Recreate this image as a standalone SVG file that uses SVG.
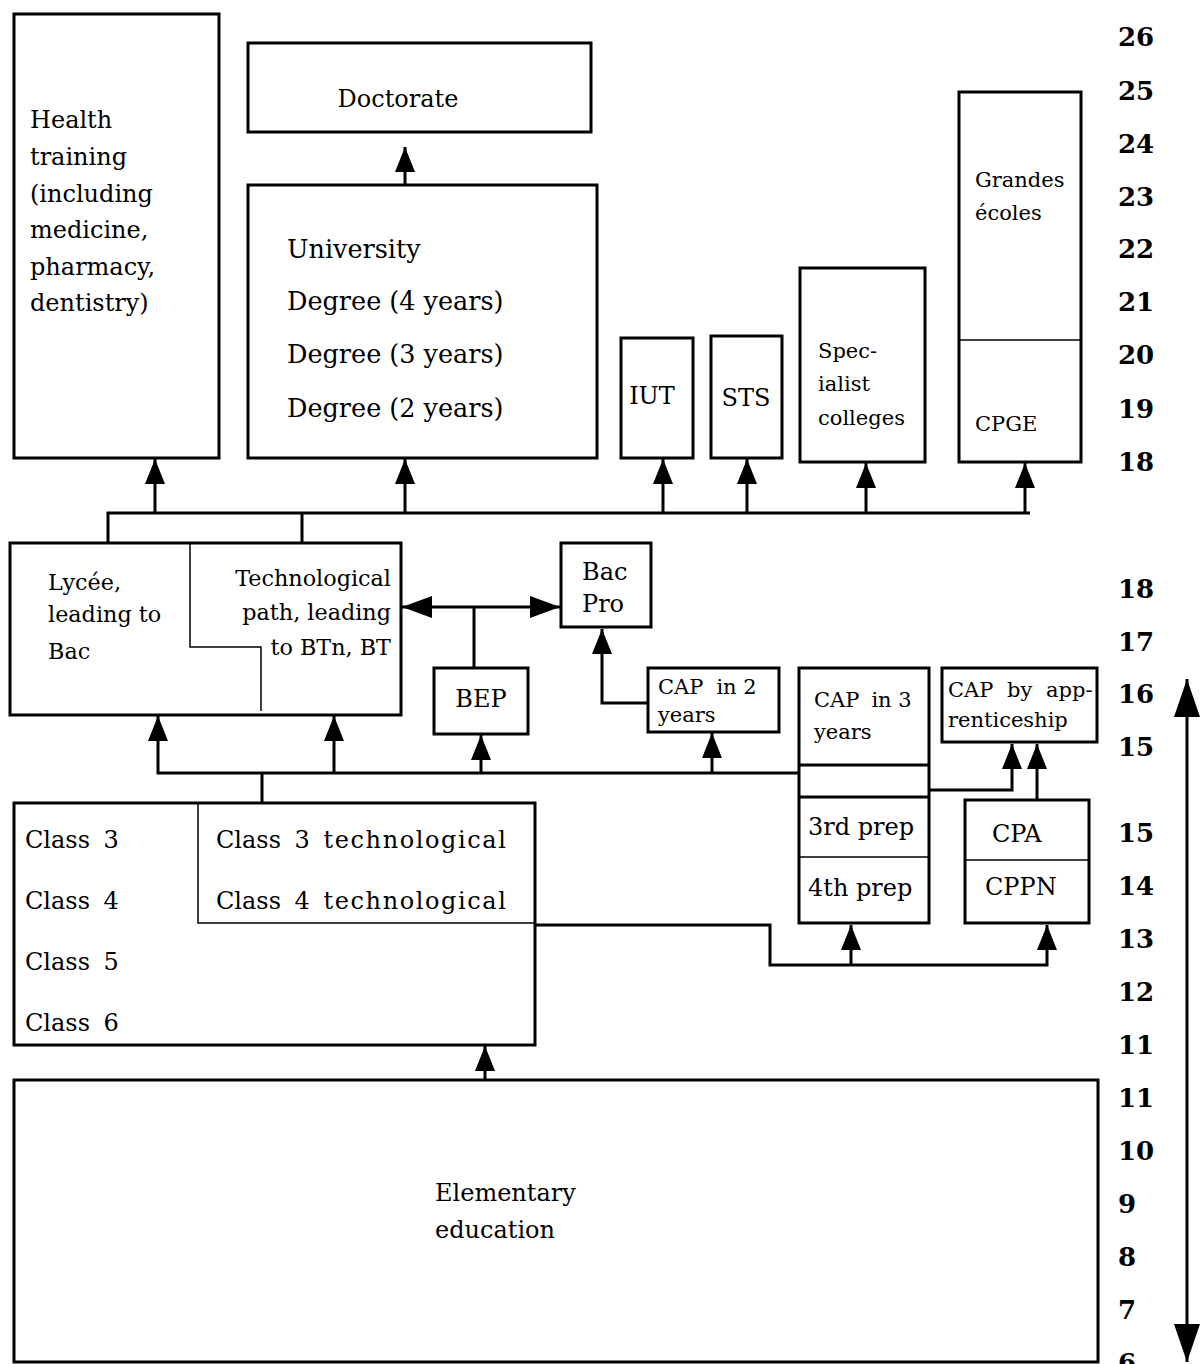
<svg xmlns="http://www.w3.org/2000/svg" width="1200" height="1364" viewBox="0 0 1200 1364">
  <defs>
    <style>
      .box { fill: #fff; stroke: #000; stroke-width: 3; }
      .thin { fill: none; stroke: #000; stroke-width: 1.5; }
      .wire { fill: none; stroke: #000; stroke-width: 3; }
      .t { font-family: "DejaVu Serif", "Liberation Serif", serif; font-size: 24px; fill: #000; }
      .u { font-family: "DejaVu Serif", "Liberation Serif", serif; font-size: 25.5px; fill: #000; }
      .l { font-family: "DejaVu Serif", "Liberation Serif", serif; font-size: 22.3px; fill: #000; }
      .s { font-family: "DejaVu Serif", "Liberation Serif", serif; font-size: 21px; fill: #000; }
      .age { font-family: "DejaVu Serif", "Liberation Serif", serif; font-size: 26px; font-weight: bold; fill: #000; }
      .ws { word-spacing: 6px; }
      .wide { letter-spacing: 1.6px; }
    </style>
    <!-- arrowheads, drawn pointing along +x so orient="auto" turns them with the line -->
    <marker id="ah" markerUnits="userSpaceOnUse" markerWidth="25" markerHeight="20" viewBox="0 0 25 20" refX="25" refY="10" orient="auto-start-reverse">
      <path d="M0,0 L25,10 L0,20 Z" fill="#000"/>
    </marker>
    <marker id="ahh" markerUnits="userSpaceOnUse" markerWidth="30" markerHeight="22" viewBox="0 0 30 22" refX="30" refY="11" orient="auto-start-reverse">
      <path d="M0,0 L30,11 L0,22 Z" fill="#000"/>
    </marker>
    <marker id="big" markerUnits="userSpaceOnUse" markerWidth="38" markerHeight="26" viewBox="0 0 38 26" refX="38" refY="13" orient="auto-start-reverse">
      <path d="M0,0 L38,13 L0,26 Z" fill="#000"/>
    </marker>
  </defs>

  <!-- higher education -->
  <g id="health">
    <rect class="box" x="14" y="14" width="205" height="444"/>
    <text class="t" x="30" y="128">Health</text>
    <text class="t" x="30" y="165">training</text>
    <text class="t" x="30" y="202">(including</text>
    <text class="t" x="30" y="238">medicine,</text>
    <text class="t" x="30" y="275">pharmacy,</text>
    <text class="t" x="30" y="311">dentistry)</text>
  </g>
  <g id="doctorate">
    <rect class="box" x="248" y="43" width="343" height="89"/>
    <text class="t" x="398" y="107" text-anchor="middle">Doctorate</text>
  </g>
  <g id="university">
    <rect class="box" x="248" y="185" width="349" height="273"/>
    <text class="u" x="287" y="258">University</text>
    <text class="u" x="287" y="310">Degree (4 years)</text>
    <text class="u" x="287" y="363">Degree (3 years)</text>
    <text class="u" x="287" y="417">Degree (2 years)</text>
  </g>
  <g id="iut">
    <rect class="box" x="621" y="338" width="72" height="120"/>
    <text class="t" x="652" y="404" text-anchor="middle">IUT</text>
  </g>
  <g id="sts">
    <rect class="box" x="711" y="336" width="71" height="122"/>
    <text class="t" x="746" y="406" text-anchor="middle">STS</text>
  </g>
  <g id="specialist">
    <rect class="box" x="800" y="268" width="125" height="194"/>
    <text class="s" x="818" y="358">Spec-</text>
    <text class="s" x="818" y="391">ialist</text>
    <text class="s" x="818" y="425">colleges</text>
  </g>
  <g id="grandes-ecoles">
    <rect class="box" x="959" y="92" width="122" height="370"/>
    <line class="thin" x1="959" y1="340" x2="1081" y2="340"/>
    <text class="s" x="975" y="187">Grandes</text>
    <text class="s" x="975" y="220">écoles</text>
    <text class="s" x="975" y="431">CPGE</text>
  </g>

  <!-- upper secondary -->
  <g id="lycee">
    <rect class="box" x="10" y="543" width="391" height="172"/>
    <polyline class="thin" points="190,543 190,647 261,647 261,711"/>
    <text class="l" x="48" y="590">Lycée,</text>
    <text class="l" x="48" y="622">leading to</text>
    <text class="l" x="48" y="659">Bac</text>
    <text class="l" x="391" y="586" text-anchor="end">Technological</text>
    <text class="l" x="391" y="620" text-anchor="end">path, leading</text>
    <text class="l" x="391" y="655" text-anchor="end">to BTn, BT</text>
  </g>
  <g id="bac-pro">
    <rect class="box" x="561" y="543" width="90" height="84"/>
    <text class="t" x="582" y="580">Bac</text>
    <text class="t" x="582" y="612">Pro</text>
  </g>
  <g id="bep">
    <rect class="box" x="434" y="668" width="94" height="66"/>
    <text class="t" x="481" y="707" text-anchor="middle">BEP</text>
  </g>
  <g id="cap-2">
    <rect class="box" x="648" y="668" width="131" height="64"/>
    <text class="s" x="658" y="694">CAP<tspan dx="13">in 2</tspan></text>
    <text class="s" x="658" y="722">years</text>
  </g>
  <g id="cap-3">
    <rect class="box" x="799" y="668" width="130" height="255"/>
    <line class="wire" x1="799" y1="765" x2="929" y2="765"/>
    <line class="wire" x1="799" y1="797" x2="929" y2="797"/>
    <line class="thin" x1="799" y1="857" x2="929" y2="857"/>
    <text class="s" x="814" y="707">CAP<tspan dx="12">in 3</tspan></text>
    <text class="s" x="814" y="739">years</text>
    <text class="t" x="808" y="835">3rd prep</text>
    <text class="t" x="808" y="896">4th prep</text>
  </g>
  <g id="cap-apprenticeship">
    <rect class="box" x="942" y="668" width="155" height="74"/>
    <text class="s" x="948" y="697" style="word-spacing:7px">CAP by app-</text>
    <text class="s" x="948" y="727">renticeship</text>
  </g>
  <g id="cpa-cppn">
    <rect class="box" x="965" y="800" width="124" height="123"/>
    <line class="thin" x1="965" y1="860" x2="1089" y2="860"/>
    <text class="t" x="992" y="842">CPA</text>
    <text class="t" x="985" y="895">CPPN</text>
  </g>

  <!-- lower secondary -->
  <g id="college">
    <rect class="box" x="14" y="803" width="521" height="242"/>
    <polyline class="thin" points="198,803 198,923 535,923"/>
    <text class="t ws" x="25" y="848">Class 3</text>
    <text class="t ws" x="25" y="909">Class 4</text>
    <text class="t ws" x="25" y="970">Class 5</text>
    <text class="t ws" x="25" y="1031">Class 6</text>
    <text class="t ws" x="216" y="848">Class 3 <tspan class="wide">technological</tspan></text>
    <text class="t ws" x="216" y="909">Class 4 <tspan class="wide">technological</tspan></text>
  </g>
  <g id="elementary">
    <rect class="box" x="14" y="1080" width="1084" height="282"/>
    <text class="t" x="435" y="1201">Elementary</text>
    <text class="t" x="435" y="1238">education</text>
  </g>

  <!-- age scale -->
  <g id="ages">
    <text class="age" x="1118" y="46">26</text>
    <text class="age" x="1118" y="100">25</text>
    <text class="age" x="1118" y="153">24</text>
    <text class="age" x="1118" y="206">23</text>
    <text class="age" x="1118" y="258">22</text>
    <text class="age" x="1118" y="311">21</text>
    <text class="age" x="1118" y="364">20</text>
    <text class="age" x="1118" y="418">19</text>
    <text class="age" x="1118" y="471">18</text>
    <text class="age" x="1118" y="598">18</text>
    <text class="age" x="1118" y="651">17</text>
    <text class="age" x="1118" y="703">16</text>
    <text class="age" x="1118" y="756">15</text>
    <text class="age" x="1118" y="842">15</text>
    <text class="age" x="1118" y="895">14</text>
    <text class="age" x="1118" y="948">13</text>
    <text class="age" x="1118" y="1001">12</text>
    <text class="age" x="1118" y="1054">11</text>
    <text class="age" x="1118" y="1107">11</text>
    <text class="age" x="1118" y="1160">10</text>
    <text class="age" x="1118" y="1213">9</text>
    <text class="age" x="1118" y="1266">8</text>
    <text class="age" x="1118" y="1319">7</text>
    <text class="age" x="1118" y="1372">6</text>
  </g>

  <!-- connectors -->
  <g id="connectors">
    <!-- age axis -->
    <line class="wire" x1="1187" y1="679" x2="1187" y2="1362" stroke-width="4" marker-start="url(#big)" marker-end="url(#big)"/>
    <!-- university to doctorate -->
    <line class="wire" x1="405" y1="185" x2="405" y2="147" marker-end="url(#ah)"/>
    <!-- lycee to higher education -->
    <polyline class="wire" points="108,543 108,513 1030,513"/>
    <line class="wire" x1="302" y1="543" x2="302" y2="513"/>
    <line class="wire" x1="155" y1="513" x2="155" y2="459" marker-end="url(#ah)"/>
    <line class="wire" x1="405" y1="513" x2="405" y2="459" marker-end="url(#ah)"/>
    <line class="wire" x1="663" y1="513" x2="663" y2="459" marker-end="url(#ah)"/>
    <line class="wire" x1="747" y1="513" x2="747" y2="459" marker-end="url(#ah)"/>
    <line class="wire" x1="866" y1="513" x2="866" y2="463" marker-end="url(#ah)"/>
    <line class="wire" x1="1025" y1="513" x2="1025" y2="463" marker-end="url(#ah)"/>
    <!-- BEP to lycee / bac pro -->
    <line class="wire" x1="402" y1="607" x2="560" y2="607" marker-start="url(#ahh)" marker-end="url(#ahh)"/>
    <line class="wire" x1="474" y1="668" x2="474" y2="607"/>
    <!-- CAP in 2 years to bac pro -->
    <polyline class="wire" points="648,703 602,703 602,629" marker-end="url(#ah)"/>
    <!-- college to upper secondary -->
    <polyline class="wire" points="158,716 158,773 799,773" marker-start="url(#ah)"/>
    <line class="wire" x1="262" y1="803" x2="262" y2="773"/>
    <line class="wire" x1="334" y1="773" x2="334" y2="716" marker-end="url(#ah)"/>
    <line class="wire" x1="481" y1="773" x2="481" y2="735" marker-end="url(#ah)"/>
    <line class="wire" x1="712" y1="773" x2="712" y2="733" marker-end="url(#ah)"/>
    <!-- to CAP by apprenticeship -->
    <polyline class="wire" points="929,790 1012,790 1012,744" marker-end="url(#ah)"/>
    <line class="wire" x1="1037" y1="800" x2="1037" y2="744" marker-end="url(#ah)"/>
    <!-- college to prep classes -->
    <polyline class="wire" points="535,925 770,925 770,965 1047,965 1047,925" marker-end="url(#ah)"/>
    <line class="wire" x1="851" y1="965" x2="851" y2="925" marker-end="url(#ah)"/>
    <!-- elementary to college -->
    <line class="wire" x1="485" y1="1080" x2="485" y2="1046" marker-end="url(#ah)"/>
  </g>
</svg>
